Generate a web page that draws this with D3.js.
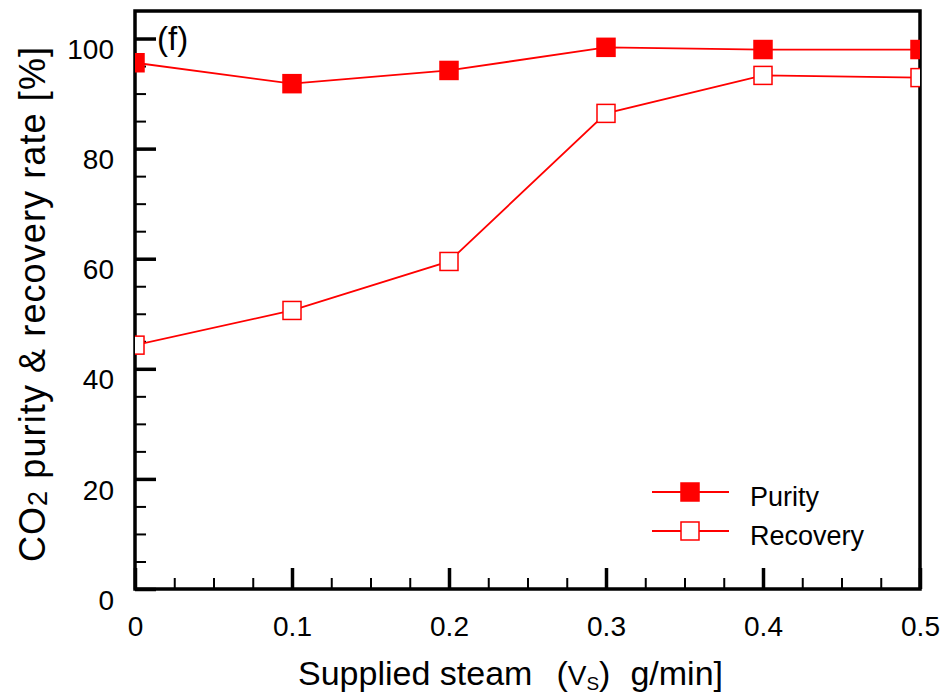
<!DOCTYPE html>
<html>
<head>
<meta charset="utf-8">
<script src="https://cdn.jsdelivr.net/npm/d3@7"></script>
<style>
  body { margin: 0; background: #fff; }
  text { font-family: "Liberation Sans", Arial, sans-serif; }
</style>
</head>
<body>
<svg id="chart" width="945" height="695"></svg>
<script>
// Data
const steam = [0, 0.1, 0.2, 0.3, 0.4, 0.5];
const purity = [95.6, 91.8, 94.2, 98.4, 98.0, 98.0];
const recovery = [44.3, 50.6, 59.5, 86.4, 93.3, 92.9];
const xTicks = [0, 0.1, 0.2, 0.3, 0.4, 0.5];
const yTicks = [0, 20, 40, 60, 80, 100];

const width = 945, height = 695;
const margin = {left: 135, top: 11, right: 25, bottom: 106};
const w = width - margin.left - margin.right;
const h = height - margin.top - margin.bottom;

const svg = d3.select("#chart");
const g = svg.append("g").attr("transform", `translate(${margin.left},${margin.top})`);

const x = d3.scaleLinear().domain([0, 0.5]).range([0, w]);
const y = d3.scaleLinear().domain([0, 105]).range([h, 0]);

// clip for the plot area
svg.append("defs").append("clipPath").attr("id", "clip")
  .append("rect").attr("width", w).attr("height", h);

// minor ticks
const xMinor = d3.range(0, 0.5001, 0.025);
const yMinor = d3.range(0, 105, 5);

g.append("g")
  .attr("transform", `translate(0,${h})`)
  .call(d3.axisBottom(x).tickValues(xMinor).tickSize(-11).tickFormat(""))
  .call(a => a.select(".domain").remove())
  .selectAll("line").attr("stroke-width", 2);

g.append("g")
  .call(d3.axisLeft(y).tickValues(yMinor).tickSize(-11).tickFormat(""))
  .call(a => a.select(".domain").remove())
  .selectAll("line").attr("stroke-width", 2);

// major ticks + labels
g.append("g")
  .attr("transform", `translate(0,${h})`)
  .call(d3.axisBottom(x).tickValues(xTicks).tickSize(-21).tickPadding(27)
    .tickFormat(d => d === 0 ? "0" : d3.format(".1f")(d)))
  .call(a => a.select(".domain").remove())
  .call(a => a.selectAll("line").attr("stroke-width", 3.5))
  .call(a => a.selectAll("text").attr("font-size", 28).attr("fill", "#000")
    .attr("font-family", "Liberation Sans, Arial, sans-serif"));

g.append("g")
  .call(d3.axisLeft(y).tickValues(yTicks).tickSize(-21).tickPadding(21))
  .call(a => a.select(".domain").remove())
  .call(a => a.selectAll("line").attr("stroke-width", 3.5))
  .call(a => a.selectAll("text").attr("font-size", 28).attr("fill", "#000")
    .attr("dy", "0.72em").attr("font-family", "Liberation Sans, Arial, sans-serif"));

// frame
g.append("rect")
  .attr("width", w).attr("height", h)
  .attr("fill", "none").attr("stroke", "#000").attr("stroke-width", 3.5);

// series
const series = [
  {name: "Purity", values: purity, filled: true},
  {name: "Recovery", values: recovery, filled: false}
];
const line = d3.line().x((d, i) => x(steam[i])).y(d => y(d));
const ms = 18;

const plot = g.append("g").attr("clip-path", "url(#clip)");
series.forEach(s => {
  plot.append("path")
    .attr("d", line(s.values))
    .attr("fill", "none").attr("stroke", "#ff0000").attr("stroke-width", 1.8);
  plot.selectAll(null)
    .data(s.values)
    .enter().append("rect")
    .attr("x", (d, i) => x(steam[i]) - ms / 2)
    .attr("y", d => y(d) - ms / 2)
    .attr("width", ms).attr("height", ms)
    .attr("fill", s.filled ? "#ff0000" : "#fff")
    .attr("stroke", "#ff0000").attr("stroke-width", 1.5);
});

// panel label
g.append("text").attr("x", 22).attr("y", 39)
  .attr("font-size", 33).text("(f)");

// legend
const legend = g.append("g").attr("transform", `translate(${652 - margin.left},${492 - margin.top})`);
series.forEach((s, i) => {
  const row = legend.append("g").attr("transform", `translate(0,${i * 39})`);
  row.append("line").attr("x1", 0).attr("x2", 77)
    .attr("stroke", "#ff0000").attr("stroke-width", 1.8);
  row.append("rect").attr("x", 38 - ms / 2).attr("y", -ms / 2)
    .attr("width", ms).attr("height", ms)
    .attr("fill", s.filled ? "#ff0000" : "#fff")
    .attr("stroke", "#ff0000").attr("stroke-width", 1.5);
  row.append("text").attr("x", 98).attr("y", 14)
    .attr("font-size", 27).text(s.name);
});

// x-axis title
const xt = svg.append("text")
  .attr("x", 298).attr("y", 685).attr("font-size", 34);
xt.append("tspan").text("Supplied steam");
xt.append("tspan").attr("dx", 24).text("(");
xt.append("tspan").attr("font-size", 28).text("V");
xt.append("tspan").attr("font-size", 19).attr("dy", 5).text("S");
xt.append("tspan").attr("dy", -5).text(")");
xt.append("tspan").attr("dx", 20).text("g/min]");

// y-axis title
const yt = svg.append("text")
  .attr("transform", "translate(45,304) rotate(-90)")
  .attr("text-anchor", "middle").attr("font-size", 36)
  .attr("letter-spacing", 1.1);
yt.append("tspan").text("CO");
yt.append("tspan").attr("font-size", 27).attr("dy", 2).text("2");
yt.append("tspan").attr("dy", -2).text(" purity & recovery rate [%]");
</script>
</body>
</html>
